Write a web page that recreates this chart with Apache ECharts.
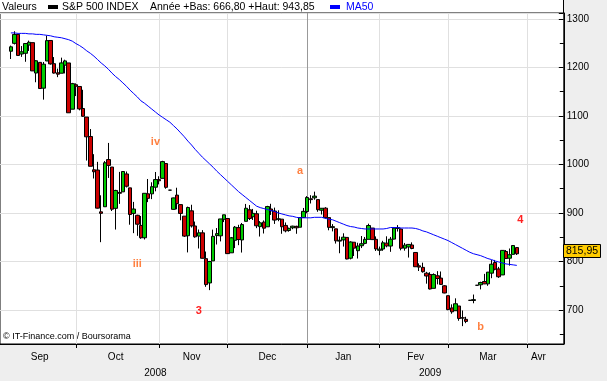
<!DOCTYPE html>
<html><head><meta charset="utf-8">
<script src="https://cdn.jsdelivr.net/npm/echarts@6/dist/echarts.min.js"></script>
<style>html,body{margin:0;padding:0;background:#eeeeee;}#c{width:607px;height:381px;}</style>
</head><body><div id="c"></div>
<script>
// Trading days shown on the axis (Sep 2008 - Apr 2009)
const tradingDays = {
  '2008-09': [2,3,4,5,8,9,10,11,12,15,16,17,18,19,22,23,24,25,26,29,30],
  '2008-10': [1,2,3,6,7,8,9,10,13,14,15,16,17,20,21,22,23,24,27,28,29,30,31],
  '2008-11': [3,4,5,6,7,10,11,12,13,14,17,18,19,20,21,24,25,26,28],
  '2008-12': [1,2,3,4,5,8,9,10,11,12,15,16,17,18,19,22,23,24,26,29,30,31],
  '2009-01': [2,5,6,7,8,9,12,13,14,15,16,20,21,22,23,26,27,28,29,30],
  '2009-02': [2,3,4,5,6,9,10,11,12,13,17,18,19,20,23,24,25,26,27],
  '2009-03': [2,3,4,5,6,9,10,11,12,13,16,17,18,19,20,23,24,25,26,27,30,31],
  '2009-04': [1,2,3,6,7,8,9,13,14,15,16]
};
const categories = [];
for (const m in tradingDays) for (const d of tradingDays[m]) categories.push(m + '-' + String(d).padStart(2, '0'));

const opens = [null,null,null,
 1233.2,1249.5,1268.0,1227.5,1229.0,1245.9,1250.9,1188.3,1210.3,1157.1,1213.1,1255.4,1207.6,1188.8,1187.9,1204.5,1209.1,1113.8,
 1164.2,1160.6,1115.2,1097.6,1057.6,988.9,988.4,902.3,912.8,1010.0,994.6,909.5,942.3,943.5,980.4,951.7,899.1,895.2,874.3,848.9,939.5,939.4,953.1,
 968.7,971.3,1001.8,947,907.4,936.8,917.2,893.4,853.1,904.4,873.2,852.3,859.0,805.9,755.8,801.2,853.4,852.9,886.9,
 888.6,817.9,843.6,869.8,844.4,882.7,906.5,892.2,898.4,871.8,881.1,871.5,908.2,904.0,887.0,887.2,874.3,863.9,869.5,872.4,870.6,890.6,
 903.0,929.2,931.2,927.5,905.7,909.9,890.4,869.8,867.3,842.0,844.5,849.6,806.8,839.7,822.2,832.5,837.3,845.7,868.9,845.7,
 823.1,825.7,837.8,831.8,846.1,868.2,866.9,827.4,829.9,834.0,818.6,791.1,787.9,775.9,773.3,744.7,770.6,765.8,749.9,
 729.6,704.4,698.6,708.3,684.0,680.8,720,719.6,751,752.0,758.8,753.9,776.0,797.9,784.6,772.3,820.6,806.8,814.7,828.7,
 null,null,null,null,null,null,null,null,null,null,null,null,null];
const highs = [null,null,null,
 1244.9,1274.4,1268.7,1243.9,1250.0,1255.1,1250.9,1214.8,1210.3,1211.1,1265.3,1255.4,1221.2,1197.4,1220.0,1215.8,1209.1,1168.0,
 1167.0,1160.6,1153.8,1097.6,1072.9,1021.1,1005.3,936.4,1006.9,1044.3,994.6,947.7,984.6,985.4,985.4,951.7,922.8,896.3,893.8,940.5,970.0,963.2,984.4,
 975.6,1007.5,1001.8,947,931.5,952.0,917.2,893.4,913.0,916.9,882.3,865.9,864.6,820.5,801.2,865.6,868.9,887.7,896.3,
 888.6,850.5,873.1,875.6,879.4,918.6,916.3,908.3,904.6,883.2,884.6,914.7,918.9,911.0,905.5,887.4,880.4,869.8,873.7,873.7,891.1,910.3,
 934.7,936.6,943.9,927.5,910.0,911.9,890.4,877.0,867.3,851.6,858.1,849.6,841.7,839.7,838.6,852.5,850.5,877.9,868.9,851.7,
 830.8,842.6,851.9,850.6,870.8,875.0,868.1,838.2,835.5,839.4,818.6,796.2,797.6,778.7,777.9,775.5,780.1,779.4,751.3,
 729.6,711.7,724.1,708.3,699.1,686.1,720,731.9,751,758.3,774.5,778.1,803.0,803.2,788.9,823.4,823.7,826.8,833.0,828.7,
 null,null,null,null,null,null,null,null,null,null,null,null,null];
const lows = [null,null,null,
 1217.2,1247.1,1224.5,1221.6,1211.5,1233.8,1192.7,1169.3,1155.9,1133.5,1213.1,1205.6,1187.1,1179.8,1187.9,1187.5,1106.4,1113.8,
 1140.8,1111.4,1098.1,1008.0,996.2,971.0,909.2,839.8,912.8,972.1,904.0,865.8,918.7,943.5,952.5,875.8,858.4,852.9,846.8,845.3,922.3,928.5,944.6,
 958.8,971.3,949.9,947,906.9,907.5,884.9,850.5,818.7,869.9,849.0,826.8,806.2,747.8,741.0,801.2,835.0,841.4,881.2,
 815.7,817.9,827.6,833.6,818.4,882.7,885.4,885.5,868.7,851.4,857.7,871.5,895.9,877.4,883.0,857.1,860.1,861.4,866.5,857.1,870.6,889.7,
 899.4,919.5,927.3,902.4,896.8,888.3,864.3,862.0,836.9,817.0,830.7,804.5,804.3,811.3,806.1,827.7,835.4,845.7,844.2,821.7,
 812.9,822.0,829.2,819.9,845.4,861.7,823.0,822.3,808.1,825.2,789.2,780.4,777.0,754.3,742.4,744.7,752.9,751.8,734.5,
 699.7,692.3,698.6,677.9,666.8,672.9,720,713.9,751,742.5,753.4,749.9,765.6,781.8,766.2,772.3,805.5,791.4,814.7,813.4,
 null,null,null,null,null,null,null,null,null,null,null,null,null];
const closes = [null,null,null,
 1242.3,1267.8,1224.5,1232.0,1249.1,1251.7,1192.7,1213.6,1156.4,1206.5,1255.1,1207.1,1188.2,1185.9,1209.2,1213.3,1106.4,1166.4,
 1161.1,1114.3,1099.2,1056.9,996.2,984.9,909.9,899.2,1003.4,998.0,907.8,946.4,940.6,985.4,955.1,896.8,908.1,876.8,848.9,940.5,930.1,954.1,968.8,
 966.3,1005.8,952.8,947,931.0,919.2,899.0,852.3,911.3,873.3,850.8,859.1,806.6,752.4,800.0,851.8,857.4,887.7,896.2,
 816.2,848.8,870.7,845.2,876.1,909.7,888.7,899.2,873.6,879.7,868.6,913.2,904.4,885.3,887.9,871.6,863.2,868.2,872.8,869.4,890.6,903.3,
 931.8,927.5,934.7,906.7,909.7,890.4,870.3,871.8,842.6,843.7,850.1,805.2,840.2,827.5,832.0,836.6,845.7,874.1,845.1,825.9,
 825.4,838.5,832.2,845.9,868.6,869.9,827.2,833.7,835.2,826.8,789.2,788.4,778.9,770.1,743.3,773.1,764.9,752.8,735.1,
 700.8,696.3,712.9,682.6,683.4,676.5,720,721.4,751,756.6,753.9,778.1,794.4,784.0,768.5,822.9,806.1,813.9,832.9,815.9,
 null,null,null,null,null,null,null,null,null,null,null,null,null];

const ma50 = [null,null,null,
 1271,1271,1270,1270,1270,1269,1269,1268,1268,1267,1266,1265,1263,1262,1261,1259,1257,1254,
 1249,1245,1240,1234,1229,1223,1216,1209,1203,1196,1188,1181,1175,1168,1161,1153,1146,1139,1131,1126,1120,1114,1108,
 1102,1097,1092,1087,1080,1073,1065,1057,1048,1040,1031,1023,1015,1008,1001,994,986,979,972,
 965,958,951,944,938,932,926,920,914,911,909,907,905,903,900,898,896,894,893,891,890,890,
 890,890,891,891,891,889,887,886,883,880,877,874,872,871,869,868,867,867,867,867,
 867,867,868,870,870,870,869,869,869,869,868,866,863,861,858,855,852,849,846,
 843,839,835,831,827,823,819,816,814,812,809,806,804,801,799,797,795,794,793,792,
 null,null,null,null,null,null,null,null,null,null,null,null,null];

const monthLabelIdx = [11, 32, 53, 74, 95, 115, 135, 149];
const monthLabelText = ['Sep', 'Oct', 'Nov', 'Dec', 'Jan', 'Fev', 'Mar', 'Avr'];
const yearLabelIdx = [43, 119];
const yearLabelText = ['2008', '2009'];
const lastValue = 815.95;

const annotText = ['iv', 'a', 'iii', '3', 'b', '4'];
const annotIdx = [43, 83, 38, 55, 133, 144];
const annotVal = [1046, 986, 795, 698, 665, 885];
const annotColor = ['#ff8040', '#ff8040', '#ff8040', '#ff2020', '#ff8040', '#ff2020'];

const monthStart = new Set();
categories.forEach((c, i) => { if (i > 0 && c.slice(0, 7) !== categories[i - 1].slice(0, 7)) monthStart.add(i); });
const yearStart = new Set();
categories.forEach((c, i) => { if (i > 0 && c.slice(0, 4) !== categories[i - 1].slice(0, 4)) yearStart.add(i); });

const candleData = categories.map((_, i) => opens[i] == null ? '-' : [opens[i], closes[i], lows[i], highs[i]]);

const FONT = 'Liberation Sans';
const HFONT = '10.5px ' + FONT;
const chart = echarts.init(document.getElementById('c'), null, { renderer: 'canvas' });
chart.setOption({
  animation: false,
  backgroundColor: '#eeeeee',
  textStyle: { fontFamily: FONT },
  grid: { left: -0.6, right: 43.2, top: 13, bottom: 37, show: true, backgroundColor: '#ffffff', borderColor: '#000000', borderWidth: 1 },
  xAxis: [{
    type: 'category', data: categories, boundaryGap: false,
    axisLine: { show: true, lineStyle: { color: '#000' } },
    axisTick: { show: true, length: 4, interval: (i) => monthStart.has(i), lineStyle: { color: '#000' } },
    axisLabel: { interval: (i) => monthLabelIdx.includes(i), formatter: (v, i) => monthLabelText[monthLabelIdx.indexOf(i)] || '',
      color: '#000', fontSize: 10, fontFamily: FONT, margin: 8 },
    splitLine: { show: true, interval: (i) => monthStart.has(i), lineStyle: { color: '#e0e0e0', width: 1 } }
  }, {
    type: 'category', data: categories, boundaryGap: false, position: 'bottom', offset: 16,
    axisLine: { show: false }, axisTick: { show: false },
    axisLabel: { interval: (i) => yearLabelIdx.includes(i), formatter: (v, i) => yearLabelText[yearLabelIdx.indexOf(i)] || '',
      color: '#000', fontSize: 10, fontFamily: FONT, margin: 8 },
    splitLine: { show: true, interval: (i) => yearStart.has(i), lineStyle: { color: '#999999', width: 1 } }
  }],
  yAxis: {
    type: 'value', position: 'right', min: 630, max: 1312, splitNumber: 7, scale: true,
    axisLine: { show: true, lineStyle: { color: '#000' } },
    axisTick: { show: true, inside: true, length: 5, lineStyle: { color: '#000' } },
    minorTick: { show: true, splitNumber: 2, length: 4, lineStyle: { color: '#000' } },
    axisLabel: { formatter: (v) => (v % 100 === 0 ? String(v) : ''), color: '#000', fontSize: 10, fontFamily: FONT, margin: 3 },
    splitLine: { show: true, lineStyle: { color: '#e0e0e0', width: 1 } }
  },
  series: [{
    name: 'S&P 500 INDEX', type: 'candlestick', data: candleData, barWidth: 4,
    itemStyle: { color: '#00cc00', color0: '#cc0000', borderColor: '#000', borderColor0: '#000', borderColorDoji: '#000', borderWidth: 1 },
    markPoint: {
      symbol: 'circle', symbolSize: 0, silent: true, animation: false,
      data: annotText.map((t, k) => ({ coord: [categories[annotIdx[k]], annotVal[k]], value: t,
        label: { show: true, position: 'inside', formatter: t, color: annotColor[k], fontWeight: 'bold', fontSize: 11, fontFamily: FONT } }))
    }
  }, {
    name: 'MA50', type: 'line', data: ma50, showSymbol: false, symbol: 'none', z: 5,
    lineStyle: { color: '#0000ff', width: 1 }, connectNulls: false
  }],
  graphic: [
    { id: 'hdrbg', type: 'rect', shape: { x: 0, y: 0, width: 564, height: 13 }, style: { fill: '#ffffff' }, z: -10, silent: true },
    { id: 'rborder', type: 'line', shape: { x1: 563.5, y1: 0, x2: 563.5, y2: 14 }, style: { stroke: '#000', lineWidth: 1 }, silent: true },
    { id: 't1', type: 'text', x: 2, y: 7, style: { text: 'Valeurs', font: HFONT, fill: '#000', textVerticalAlign: 'middle' } },
    { id: 'r1', type: 'rect', shape: { x: 48, y: 5, width: 10, height: 4 }, style: { fill: '#000' } },
    { id: 't2', type: 'text', x: 62, y: 7, style: { text: 'S&P 500 INDEX', font: HFONT, fill: '#000', textVerticalAlign: 'middle' } },
    { id: 't3', type: 'text', x: 150, y: 7, style: { text: 'Année +Bas: 666,80 +Haut: 943,85', font: HFONT, fill: '#000', textVerticalAlign: 'middle' } },
    { id: 'r2', type: 'rect', shape: { x: 330, y: 5, width: 10, height: 4 }, style: { fill: '#0000ff' } },
    { id: 't4', type: 'text', x: 346, y: 7, style: { text: 'MA50', font: HFONT, fill: '#0000ff', textVerticalAlign: 'middle' } },
    { id: 'wm', type: 'text', x: 3, y: 337, style: { text: '© IT-Finance.com / Boursorama', font: '9px ' + FONT, fill: '#000', textVerticalAlign: 'middle' } }
  ]
});

// Last value box placed through the y axis scale
const yLast = chart.convertToPixel({ yAxisIndex: 0 }, lastValue);
chart.setOption({
  graphic: [
    { id: 'lvbox', type: 'rect', shape: { x: 563.5, y: Math.round(yLast - 9.5) + 0.5, width: 37, height: 13 },
      style: { fill: '#ffcc00', stroke: '#000', lineWidth: 1 }, z: 20 },
    { id: 'lvtext', type: 'text', x: 582, y: Math.round(yLast - 9.5) + 7, z: 21,
      style: { text: String(lastValue).replace('.', ','), font: '10.5px ' + FONT, fill: '#000', textAlign: 'center', textVerticalAlign: 'middle' } }
  ]
});
</script>
</body></html>
